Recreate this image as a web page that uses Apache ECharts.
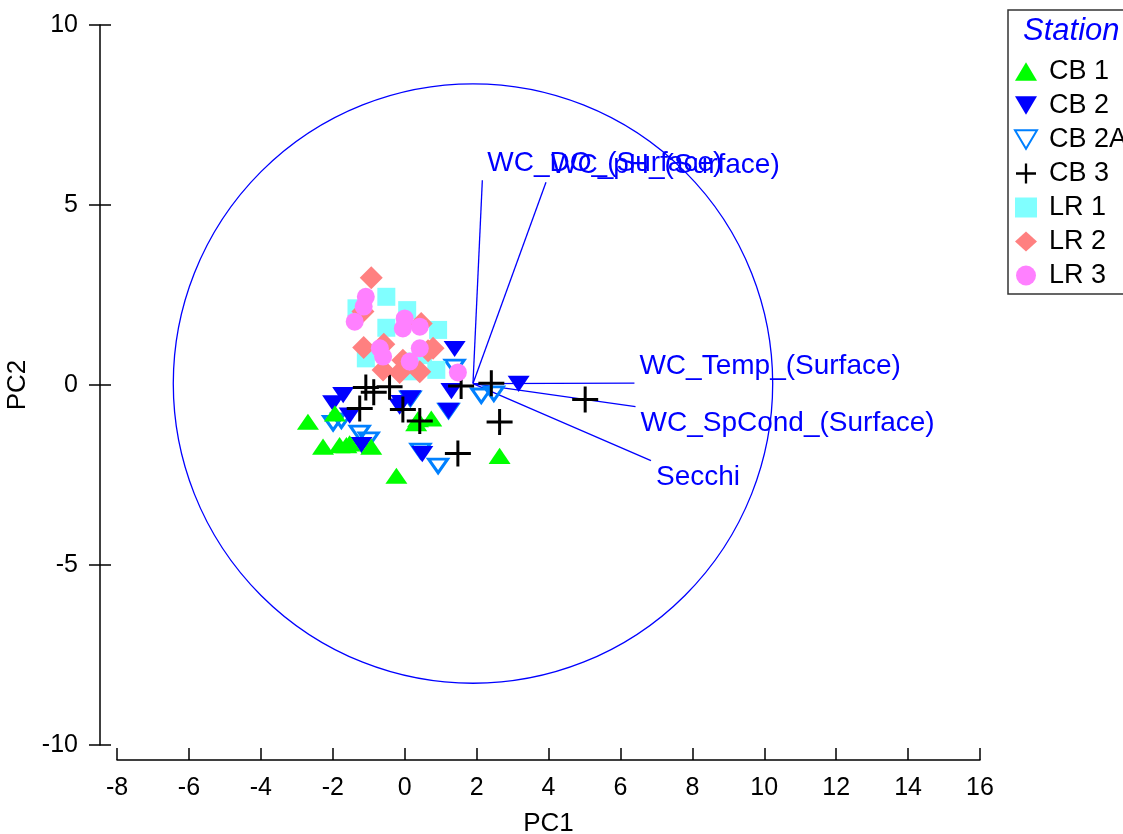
<!DOCTYPE html>
<html><head><meta charset="utf-8">
<script src="https://cdn.jsdelivr.net/npm/echarts@6/dist/echarts.min.js"></script>
<style>html,body{margin:0;padding:0;background:#fff}#c{width:1123px;height:834px}</style>
</head><body><div id="c"></div>
<script>
// ---- data ----
const stations = ['CB 1','CB 2','CB 2A','CB 3','LR 1','LR 2','LR 3'];
const cb1 = [[-2.69,-1.02],[-2.27,-1.71],[-1.94,-0.79],[-1.81,-1.67],[-1.62,-1.67],[-1.53,-1.62],[-0.93,-1.71],[-0.23,-2.52],[0.32,-1.06],[0.37,-0.95],[0.74,-0.93],[2.64,-1.97]];
const cb2 = [[1.39,1.0],[1.30,-0.17],[3.17,0.03],[-1.71,-0.28],[-1.99,-0.51],[-1.53,-0.85],[-1.2,-1.67],[-0.14,-0.6],[0.16,-0.37],[1.22,-0.72],[0.49,-1.92],[-0.09,-0.5]];
const cb2a = [[0.16,-0.38],[1.22,-0.72],[2.13,-0.3],[2.48,-0.24],[-1.99,-1.06],[-1.76,-0.99],[-1.25,-1.33],[-1.0,-1.52],[0.44,-1.83],[0.93,-2.25],[1.39,0.5]];
const cb3 = [[-1.08,-0.07],[-0.86,-0.2],[-0.42,-0.05],[-1.25,-0.65],[-0.05,-0.68],[0.42,-1.0],[1.57,-0.03],[2.41,0.05],[2.64,-1.03],[1.48,-1.9],[5.02,-0.4]];
const lr1 = [[-1.34,2.13],[-0.51,2.45],[0.07,2.08],[0.93,1.53],[-0.51,1.59],[-1.08,0.74],[0.51,0.83],[0.09,0.65],[0.88,0.42],[0.2,0.38]];
const lr2 = [[-0.93,2.98],[-1.16,2.04],[0.46,1.71],[-1.14,1.04],[-0.58,1.13],[0.79,1.02],[-0.6,0.42],[-0.14,0.35],[0.42,0.37],[-0.05,0.69],[0.65,0.95]];
const lr3 = [[-1.08,2.45],[-1.14,2.18],[-1.39,1.76],[0.0,1.85],[-0.05,1.57],[0.42,1.62],[0.42,1.02],[-0.69,1.02],[-0.6,0.79],[0.14,0.65],[1.48,0.35]];
const loadingNames = ['WC_DO_(Surface)','WC_pH_(Surface)','WC_Temp_(Surface)','WC_SpCond_(Surface)','Secchi'];
const loadingEnds = [[2.16,5.69],[3.93,5.63],[6.39,0.05],[6.42,-0.6],[6.85,-2.1]];
const biplotOrigin = [1.9,0.04];
const circleRadius = 8.33;
const xTickMin = -8, xTickMax = 16, xTickStep = 2;
const yTickMin = -10, yTickMax = 10, yTickStep = 5;
const yTickValues = [-10, -5, 0, 5, 10];

const FONT = '"Liberation Sans", Arial, sans-serif';
const Y_AXIS_OFFSET = 17;
const chart = echarts.init(document.getElementById('c'));

const upTri = 'path://M10,0 L20,17 L0,17 Z';
const downTri = 'path://M0,0 L20,0 L10,17 Z';
const plus = 'path://M11.5,0 H14.5 V11.5 H26 V14.5 H14.5 V26 H11.5 V14.5 H0 V11.5 H11.5 Z';

function scatter(name, data, symbol, size, itemStyle){
  return {type:'scatter', name, data, symbol, symbolSize:size, symbolKeepAspect:true,
    itemStyle:Object.assign({opacity:1}, itemStyle), emphasis:{disabled:true}, animation:false};
}

const option = {
  animation:false,
  backgroundColor:'#fff',
  grid:{left:117, right:143, top:25, bottom:89, outerBoundsMode:'none', containLabel:false},
  xAxis:{type:'value', min:xTickMin, max:xTickMax, interval:xTickStep, offset:15,
    name:'PC1', nameLocation:'middle', nameGap:51,
    nameTextStyle:{fontSize:26, fontFamily:FONT, color:'#000'},
    axisLine:{onZero:false, lineStyle:{color:'#000', width:1.5}},
    axisTick:{inside:true, length:12, lineStyle:{color:'#000', width:1.5}},
    axisLabel:{fontSize:25, fontFamily:FONT, color:'#000', margin:16},
    splitLine:{show:false}},
  yAxis:{type:'value', min:yTickMin, max:yTickMax, interval:yTickStep, offset:Y_AXIS_OFFSET, position:'left',
    name:'PC2', nameLocation:'middle', nameGap:64,
    nameTextStyle:{fontSize:26, fontFamily:FONT, color:'#000'},
    axisLine:{onZero:false, lineStyle:{color:'#000', width:1.5}},
    axisTick:{inside:false, length:11, lineStyle:{color:'#000', width:1.5}},
    axisLabel:{fontSize:25, fontFamily:FONT, color:'#000', margin:22},
    splitLine:{show:false}},
  legend:{data:stations, orient:'vertical', left:1009, top:53, itemWidth:22, itemHeight:20, itemGap:7,
    selectedMode:false, padding:5,
    textStyle:{fontSize:27, fontFamily:FONT, color:'#000', padding:[0,0,0,7]}},
  graphic:[
    {type:'rect', id:'legendBox', x:1008, y:10, shape:{x:0,y:0,width:200,height:284}, style:{fill:'none', stroke:'#333', lineWidth:1.5}, z:100},
    {type:'text', id:'legendTitle', x:1023, y:31, style:{text:'Station', fontStyle:'italic', fontSize:31, fontFamily:FONT, fill:'#0000FF', verticalAlign:'middle', align:'left'}, z:100}
  ],
  series:[
    {type:'custom', name:'circle', data:[biplotOrigin], silent:true, animation:false, z:1,
      renderItem:function(params, api){
        const c = api.coord([api.value(0), api.value(1)]);
        const s = api.size([circleRadius, circleRadius]);
        return {type:'circle', shape:{cx:c[0], cy:c[1], r:(s[0]+s[1])/2},
          style:{fill:'none', stroke:'#0000FF', lineWidth:1.3}};
      }},
    {type:'custom', name:'loadings', data:loadingEnds, silent:true, animation:false, z:1,
      renderItem:function(params, api){
        const o = api.coord(biplotOrigin);
        const e = api.coord([api.value(0), api.value(1)]);
        const below = api.value(1) < 0;
        return {type:'group', children:[
          {type:'line', shape:{x1:o[0], y1:o[1], x2:e[0], y2:e[1]}, style:{stroke:'#0000FF', lineWidth:1.3}},
          {type:'text', x:e[0]+5, y: below ? e[1]+3 : e[1]-3,
            style:{text:loadingNames[params.dataIndex], fill:'#0000FF', fontSize:28, fontFamily:FONT,
              align:'left', verticalAlign: below ? 'top' : 'bottom'}}
        ]};
      }},
    {type:'custom', name:'yTicksInner', data:yTickValues.map(v => [xTickMin, v]), silent:true, animation:false, clip:false, z:5,
      renderItem:function(params, api){
        const p = api.coord([api.value(0), api.value(1)]);
        const x0 = p[0] - Y_AXIS_OFFSET;
        return {type:'polyline', shape:{points:[[x0, p[1]], [x0 + 11, p[1]]]}, style:{stroke:'#000', lineWidth:1.5, fill:null}};
      }},
    scatter('CB 2A', cb2a, downTri, [19,16], {color:'transparent', borderColor:'#0080FF', borderWidth:3}),
    scatter('CB 2', cb2, downTri, [22,19], {color:'#0000FF'}),
    scatter('CB 1', cb1, upTri, [22,19], {color:'#00FF00'}),
    scatter('CB 3', cb3, plus, 26, {color:'#000'}),
    scatter('LR 1', lr1, 'rect', 18, {color:'#80FFFF'}),
    scatter('LR 2', lr2, 'diamond', 23, {color:'#FF8080'}),
    scatter('LR 3', lr3, 'circle', 18, {color:'#FF80FF'})
  ]
};
chart.setOption(option);
</script>
</body></html>
